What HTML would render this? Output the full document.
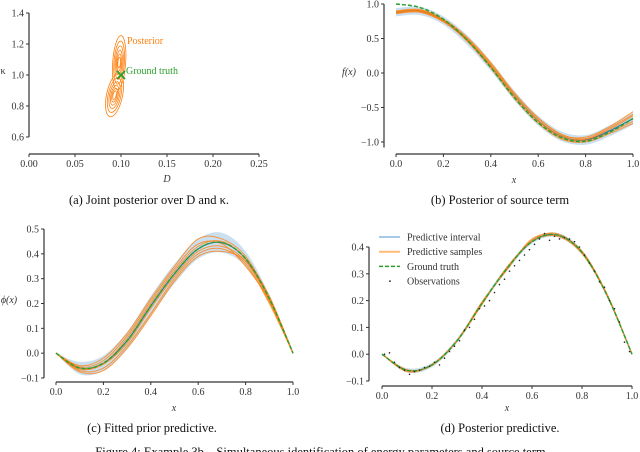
<!DOCTYPE html>
<html><head><meta charset="utf-8">
<style>
body{margin:0;background:#fff;}
svg{display:block;font-family:"Liberation Serif",serif;}
.tk{font-size:10px;fill:#333;}
.cap{font-size:12.5px;fill:#111;}
</style></head>
<body>
<svg id="fig" width="640" height="452" viewBox="0 0 640 452"></svg>
<script>
// ---------- data ----------
const xGrid = [0,0.1,0.2,0.3,0.4,0.5,0.6,0.7,0.8,0.9,1.0];
const fTruth = [1.0,0.95,0.78,0.48,0.08,-0.36,-0.72,-0.94,-0.99,-0.86,-0.66];
const fSamples = [
 [0.88,0.90,0.76,0.50,0.13,-0.30,-0.66,-0.90,-0.93,-0.78,-0.56],
 [0.86,0.88,0.74,0.47,0.10,-0.34,-0.70,-0.94,-0.98,-0.86,-0.70],
 [0.90,0.92,0.77,0.49,0.11,-0.33,-0.69,-0.92,-0.96,-0.82,-0.62],
 [0.87,0.89,0.75,0.46,0.07,-0.37,-0.73,-0.96,-1.00,-0.88,-0.73],
 [0.89,0.91,0.78,0.52,0.15,-0.29,-0.65,-0.89,-0.95,-0.80,-0.60]
];
const fMean = [0.88,0.90,0.76,0.48,0.10,-0.33,-0.69,-0.92,-0.97,-0.84,-0.66];
const fBand = [0.06,0.06,0.06,0.07,0.07,0.07,0.07,0.07,0.07,0.08,0.09];
const pTruth = [0,-0.06,-0.04,0.05,0.19,0.32,0.42,0.445,0.38,0.22,0];
const pSamples = [
 [0,-0.065,-0.045,0.04,0.18,0.31,0.41,0.43,0.37,0.21,0],
 [0,-0.05,-0.02,0.08,0.22,0.35,0.46,0.46,0.39,0.22,0],
 [0,-0.07,-0.06,0.03,0.16,0.30,0.40,0.42,0.36,0.20,0],
 [0,-0.06,-0.04,0.06,0.20,0.33,0.43,0.45,0.38,0.23,0],
 [0,-0.055,-0.03,0.07,0.21,0.34,0.44,0.44,0.35,0.21,0],
 [0,-0.075,-0.07,0.02,0.15,0.29,0.39,0.41,0.37,0.22,0]
];
const pBand = [0,0.025,0.03,0.035,0.04,0.04,0.04,0.04,0.03,0.015,0];
const dSamples = [
 [0,-0.062,-0.038,0.052,0.19,0.32,0.425,0.45,0.38,0.22,0],
 [0,-0.058,-0.042,0.048,0.185,0.325,0.42,0.44,0.375,0.22,0],
 [0,-0.065,-0.04,0.05,0.195,0.315,0.43,0.445,0.385,0.225,0]
];
const dBand = [0,0.008,0.008,0.008,0.008,0.008,0.008,0.008,0.008,0.006,0];
const obsX = [0.01,0.03,0.05,0.07,0.09,0.11,0.13,0.15,0.17,0.19,0.21,0.23,0.25,0.27,0.29,0.31,0.33,0.35,0.37,0.39,0.41,0.43,0.45,0.47,0.49,0.51,0.53,0.55,0.57,0.59,0.61,0.63,0.65,0.67,0.69,0.71,0.73,0.75,0.77,0.79,0.81,0.83,0.85,0.87,0.89,0.91,0.93,0.95,0.97,0.99];
const obsY = [0.0,0.005,-0.03,-0.05,-0.06,-0.075,-0.065,-0.06,-0.05,-0.045,-0.03,-0.04,-0.015,0.01,0.03,0.05,0.09,0.1,0.13,0.17,0.18,0.2,0.23,0.26,0.28,0.31,0.33,0.35,0.37,0.39,0.41,0.43,0.45,0.425,0.44,0.43,0.435,0.43,0.42,0.4,0.37,0.34,0.31,0.27,0.25,0.2,0.17,0.12,0.045,0.01];
const contourD = [0.093,0.098];
const contourK = [0.87,1.08];
const contourLevels = [1,0.8,0.62,0.46,0.32,0.2];
const truthD = 0.1, truthK = 1.0;

// ---------- helpers ----------
const NS="http://www.w3.org/2000/svg";
const svg=document.getElementById('fig');
function el(tag,attrs,parent){const e=document.createElementNS(NS,tag);for(const k in attrs)e.setAttribute(k,attrs[k]);(parent||svg).appendChild(e);return e;}
function txt(s,x,y,cls,anchor,parent,extra){const t=el('text',Object.assign({x:x,y:y,'class':cls,'text-anchor':anchor||'middle'},extra||{}),parent);t.textContent=s;return t;}
function lin(d0,d1,p0,p1){return v=>p0+(v-d0)/(d1-d0)*(p1-p0);}
function smooth(pts){let d='M'+pts[0][0]+','+pts[0][1];for(let i=0;i<pts.length-1;i++){const p0=pts[Math.max(0,i-1)],p1=pts[i],p2=pts[i+1],p3=pts[Math.min(pts.length-1,i+2)];d+=' C'+(p1[0]+(p2[0]-p0[0])/6)+','+(p1[1]+(p2[1]-p0[1])/6)+' '+(p2[0]-(p3[0]-p1[0])/6)+','+(p2[1]-(p3[1]-p1[1])/6)+' '+p2[0]+','+p2[1];}return d;}
function axes(g,X,Y,xt,yt,xAxisY,yAxisX,xFmt,yFmt,x0,x1,y0,y1){
  el('line',{x1:yAxisX,y1:Y(y1),x2:yAxisX,y2:Y(y0),stroke:'#333','stroke-width':1.2},g);
  el('line',{x1:X(x0),y1:xAxisY,x2:X(x1),y2:xAxisY,stroke:'#333','stroke-width':1.2},g);
  xt.forEach(v=>{el('line',{x1:X(v),y1:xAxisY,x2:X(v),y2:xAxisY+3,stroke:'#333'},g);const t=txt(xFmt(v),X(v),xAxisY+13,'tk','middle',g);});
  yt.forEach(v=>{el('line',{x1:yAxisX-3,y1:Y(v),x2:yAxisX,y2:Y(v),stroke:'#333'},g);const t=txt(yFmt(v),yAxisX-5,Y(v)+3.5,'tk','end',g);});
}
const neg=s=>s.replace('-','\u2212');

// ---------- panel a ----------
(function(){
 const g=el('g',{});
 const X=lin(0,0.25,29,259),Y=lin(0.6,1.4,137,13);
 axes(g,X,Y,[0,0.05,0.1,0.15,0.2,0.25],[0.6,0.8,1.0,1.2,1.4],154,29,v=>v.toFixed(2),v=>v.toFixed(1),0,0.25,0.6,1.4);
 contourLevels.forEach(l=>{
  const c1=el('ellipse',{cx:X(contourD[0]),cy:Y(contourK[0]),rx:8*l,ry:22*l,fill:'none',stroke:'#ff7f0e','stroke-width':0.8,transform:'rotate(12 '+X(contourD[0])+' '+Y(contourK[0])+')'},g);
  
  const c2=el('ellipse',{cx:X(contourD[1]),cy:Y(contourK[1]),rx:6.5*l,ry:27*l,fill:'none',stroke:'#ff7f0e','stroke-width':0.8,transform:'rotate(4 '+X(contourD[1])+' '+Y(contourK[1])+')'},g);
  
 });
 const tx=X(truthD),ty=Y(truthK);
 const m=el('path',{d:`M${tx-4},${ty-4}L${tx+4},${ty+4}M${tx-4},${ty+4}L${tx+4},${ty-4}`,stroke:'#2ca02c','stroke-width':1.8},g);
 
 let t=txt('Posterior',127,44,'tk','start',g);t.style.fill='#ff7f0e';
 t=txt('Ground truth',126,74,'tk','start',g);t.style.fill='#2ca02c';
 t=txt('κ',3,74,'tk','middle',g);
 t=txt('D',167,182,'tk','middle',g,{'font-style':'italic','font-size':'11px'});
 t=txt('(a) Joint posterior over D and κ.',149,204,'cap','middle',g);
})();

function curvePanel(name,X,Y,truth,samples,mean,band){
 const g=el('g',{});
 const up=xGrid.map((x,i)=>[X(x),Y(mean[i]+band[i])]),lo=xGrid.map((x,i)=>[X(x),Y(mean[i]-band[i])]).reverse();
 const b=el('path',{d:smooth(up)+' L'+smooth(lo).slice(1)+' Z',fill:'#a6cbe6','fill-opacity':0.6,stroke:'none'},g);
 
 const mp=el('path',{d:smooth(xGrid.map((x,i)=>[X(x),Y(mean[i])])),fill:'none',stroke:'#1f77b4','stroke-width':1.2},g);
 
 samples.forEach(s=>{const p=el('path',{d:smooth(xGrid.map((x,i)=>[X(x),Y(s[i])])),fill:'none',stroke:'#ff7f0e','stroke-width':1,'stroke-opacity':0.8},g);
  });
 const tp=el('path',{d:smooth(xGrid.map((x,i)=>[X(x),Y(truth[i])])),fill:'none',stroke:'#2ca02c','stroke-width':1.5,'stroke-dasharray':'4,2'},g);
 
 return g;
}

// ---------- panel b ----------
(function(){
 const X=lin(0,1,396,633),Y=lin(-1,1,142,4);
 const g=curvePanel('panel-b-source-term',X,Y,fTruth,fSamples,fMean,fBand);
 axes(g,X,Y,[0,0.2,0.4,0.6,0.8,1.0],[-1,-0.5,0,0.5,1.0],154,384,v=>v.toFixed(1),v=>neg(v.toFixed(1)),0,1,-1.08,1);
 let t=txt('f(x)',349,75,'tk','middle',g,{'font-style':'italic'});
 t=txt('x',514,183,'tk','middle',g,{'font-style':'italic'});
 t=txt('(b) Posterior of source term',500,204,'cap','middle',g);
})();

// ---------- panel c ----------
(function(){
 const X=lin(0,1,56,293),Y=lin(-0.1,0.5,378,229);
 const g=curvePanel('panel-c-prior-predictive',X,Y,pTruth,pSamples,pTruth,pBand);
 axes(g,X,Y,[0,0.2,0.4,0.6,0.8,1.0],[-0.1,0,0.1,0.2,0.3,0.4,0.5],382,44,v=>v.toFixed(1),v=>neg(v.toFixed(1)),0,1,-0.1,0.5);
 let t=txt('ϕ(x)',9,303,'tk','middle',g,{'font-style':'italic'});
 t=txt('x',174,411,'tk','middle',g,{'font-style':'italic'});
 t=txt('(c) Fitted prior predictive.',152,432,'cap','middle',g);
})();

// ---------- panel d ----------
(function(){
 const X=lin(0,1,382,632),Y=lin(-0.1,0.4,381,247);
 const g=curvePanel('panel-d-posterior-predictive',X,Y,pTruth,dSamples,pTruth,dBand);
 obsX.forEach((x,i)=>{const c=el('circle',{cx:X(x),cy:Y(obsY[i]),r:0.8,fill:'#222'},g);});
 axes(g,X,Y,[0,0.2,0.4,0.6,0.8,1.0],[-0.1,0,0.1,0.2,0.3,0.4],386,369,v=>v.toFixed(1),v=>neg(v.toFixed(1)),0,1,-0.1,0.4);
 const lg=el('g',{},g);
 const items=[['Predictive interval','#a6cbe6','line'],['Predictive samples','#ffbb78','line'],['Ground truth','#2ca02c','dash'],['Observations','#222','dot']];
 items.forEach((it,i)=>{const y=237+i*14.7;
  if(it[2]==='dot'){el('circle',{cx:390,cy:y,r:0.9,fill:it[1]},lg);}
  else el('line',{x1:379,y1:y,x2:400,y2:y,stroke:it[1],'stroke-width':it[2]==='dash'?1.5:2,'stroke-dasharray':it[2]==='dash'?'4,2':'none'},lg);
  const t=txt(it[0],407,y+3.5,'tk','start',lg);});
 let t=txt('x',507,411,'tk','middle',g,{'font-style':'italic'});
 t=txt('(d) Posterior predictive.',500,432,'cap','middle',g);
})();

const fc=txt('Figure 4: Example 3b – Simultaneous identification of energy parameters and source term.',322,456,'cap','middle');


</script>
</body></html>
